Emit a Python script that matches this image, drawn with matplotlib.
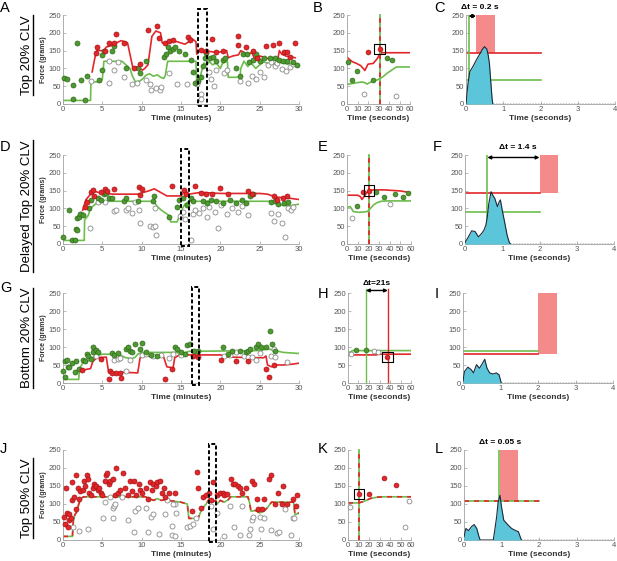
import numpy as np
import matplotlib.pyplot as plt
from matplotlib.patches import Rectangle

plt.rcParams['font.family'] = ['Liberation Sans', 'DejaVu Sans']

RED = '#e3262b'
GREEN = '#6cbd4c'
DOT_GREEN = '#4f9a30'
PINK = '#f58a8a'
CYAN = '#5bc6da'
NAVY = '#1b2a3a'

# ---------------- panel A: Top 20% CLV ----------------
a_red_line_t = [3.7, 4.1, 4.3, 5.2, 5.5, 6.3, 6.8, 7.4, 8.2, 8.9, 9.5, 10.1, 10.4, 10.8, 11.3,
                11.8, 12.4, 12.6, 13.0, 13.6, 14.5, 15.5, 16.0, 16.3, 16.9, 17.0, 17.3, 17.8,
                18.5, 19.5, 20.5, 20.8, 21.0, 21.6, 22.3, 22.6, 23.0, 23.5, 24.0, 24.3, 25.0,
                26.0, 27.0, 27.3, 27.5, 27.8, 28.3, 29.0, 29.5]
a_red_line_f = [90, 135, 150, 150, 160, 165, 172, 178, 172, 100, 105, 95, 100, 110, 190,
                205, 200, 172, 168, 178, 175, 168, 175, 185, 175, 140, 150, 145,
                148, 145, 148, 150, 130, 135, 138, 150, 145, 138, 145, 130, 135,
                128, 130, 125, 150, 140, 135, 132, 130]
a_green_line_t = [0, 3.5, 3.55, 4.8, 5.0, 5.2, 7.5, 8.0, 8.5, 8.8, 9.2, 9.8, 10.2, 10.5, 11.0,
                  11.5, 12.0, 12.4, 12.8, 13.0, 13.3, 16.9, 17.0, 17.3, 17.6, 17.9, 18.3, 18.6,
                  19.0, 19.5, 20.0, 20.3, 20.9, 21.0, 22.5, 22.6, 23.0, 23.5, 23.8, 24.5, 25.0,
                  25.5, 26.5, 27.5, 28.5, 29.5]
a_green_line_f = [10, 10, 62, 62, 70, 120, 120, 110, 100, 80, 62, 65, 72, 80, 85,
                  78, 82, 75, 72, 80, 120, 120, 60, 65, 90, 115, 110, 120,
                  110, 115, 100, 115, 120, 75, 75, 100, 120, 105, 118, 100, 110,
                  118, 112, 118, 112, 115]
a_red_pts = [(4.2, 143), (4.3, 160), (5.4, 148), (5.8, 170), (6.5, 170), (6.8, 197), (7.7, 170),
             (9.0, 100), (9.8, 112), (10.8, 208), (11.9, 219), (12.2, 185), (13.0, 170),
             (13.5, 178), (14.0, 180), (15.9, 188), (16.2, 180), (17.6, 152), (18.2, 150),
             (18.9, 182), (19.4, 145), (20.4, 148), (22.2, 166), (22.3, 190), (23.2, 160),
             (24.2, 148), (24.6, 130), (25.8, 163), (26.7, 166), (27.5, 172), (28.1, 145),
             (28.5, 145), (28.8, 132), (29.5, 172)]
a_green_pts = [(0.1, 72), (0.5, 70), (1.3, 15), (1.3, 52), (1.8, 170), (2.3, 68), (2.8, 12),
               (3.1, 80), (4.6, 68), (5.0, 95), (5.0, 138), (5.2, 150), (6.2, 150), (6.5, 163),
               (8.0, 100), (9.5, 100), (9.8, 88), (10.6, 120), (12.8, 133), (13.1, 140),
               (13.4, 160), (13.6, 150), (14.0, 155), (14.3, 160), (14.8, 150), (15.5, 140),
               (16.3, 125), (16.5, 90), (16.8, 60), (17.2, 65), (17.5, 75), (17.8, 108),
               (18.0, 130), (18.2, 142), (18.7, 128), (19.1, 132), (19.5, 120), (20.3, 125),
               (20.6, 128), (22.0, 100), (22.5, 80), (22.9, 140), (23.4, 140), (23.7, 118),
               (24.2, 125), (24.5, 140), (25.0, 122), (25.5, 130), (26.3, 130), (27.0, 128),
               (27.5, 125), (28.0, 120), (28.5, 120), (29.2, 118), (29.7, 110)]
a_gray_pts = [(3.6, 65), (5.8, 120), (6.5, 95), (7.0, 118), (7.8, 75), (5.8, 60), (8.8, 55),
              (9.4, 60), (10.5, 68), (11.0, 55), (11.2, 38), (11.8, 45), (12.3, 38), (12.5, 48),
              (13.5, 88), (14.5, 55), (15.8, 55), (17.0, 55), (17.5, 28), (17.6, 15), (18.5, 90),
              (18.8, 70), (19.2, 50), (19.5, 95), (20.5, 88), (20.8, 95), (22.5, 65), (23.5, 60),
              (24.0, 80), (24.5, 70), (25.0, 90), (25.5, 75), (26.0, 110), (26.5, 118),
              (27.0, 108), (27.2, 115), (27.8, 98), (28.3, 92), (28.8, 105), (29.2, 112)]
a_window = (17.2, 18.3)

# ---------------- panel D: Delayed Top 20% CLV ----------------
d_red_line_t = [2.5, 2.9, 3.5, 4.0, 5.0, 6.5, 9.5, 11.0, 11.6, 13.2, 15.0, 15.5, 16.0, 17.5,
                20.0, 25.0, 26.0, 27.0, 28.0, 29.0, 30.0]
d_red_line_f = [95, 124, 140, 148, 142, 140, 140, 150, 155, 135, 135, 150, 140, 145,
                142, 142, 140, 132, 130, 128, 125]
d_green_line_t = [0, 2.7, 2.75, 3.2, 3.5, 4.0, 4.5, 5.0, 11.5, 12.0, 12.5, 13.5, 13.7, 14.5,
                  15.2, 15.5, 16.0, 26.5, 27.0, 28.0, 29.0, 30.0]
d_green_line_f = [10, 10, 68, 80, 100, 110, 118, 120, 120, 105, 95, 80, 62, 62,
                  100, 112, 120, 120, 115, 108, 108, 112]
d_red_pts = [(2.8, 105), (3.0, 118), (3.5, 145), (3.8, 152), (4.0, 135), (4.8, 145), (5.3, 155),
             (5.6, 150), (6.5, 155), (9.6, 160), (9.8, 138), (10.0, 155), (13.9, 162),
             (15.4, 152), (15.6, 140), (16.8, 162), (17.6, 142), (18.2, 140), (19.0, 140),
             (20.0, 158), (21.0, 140), (23.5, 148), (24.0, 140), (26.8, 135), (27.2, 125),
             (28.0, 130), (28.5, 135)]
d_green_pts = [(0.0, 20), (0.8, 95), (1.2, 10), (1.5, 12), (1.6, 42), (1.8, 38), (1.8, 72),
               (2.0, 75), (2.2, 85), (2.5, 82), (3.3, 100), (3.6, 125), (4.5, 130), (4.8, 125),
               (5.2, 140), (5.5, 142), (5.8, 128), (6.2, 130), (7.8, 120), (8.0, 128),
               (9.5, 120), (11.5, 120), (11.6, 135), (13.5, 75), (14.5, 105), (14.8, 125),
               (15.3, 130), (15.8, 110), (16.3, 130), (16.5, 120), (17.8, 120), (18.3, 115),
               (18.8, 125), (19.5, 120), (20.3, 115), (21.2, 125), (22.0, 115), (22.8, 125),
               (23.2, 115), (23.8, 135), (24.1, 140), (26.5, 118), (27.0, 120), (27.3, 112),
               (28.1, 115), (28.6, 118)]
d_gray_pts = [(2.3, 85), (3.4, 45), (4.5, 118), (5.3, 118), (6.5, 93), (6.8, 95), (8.0, 95),
              (8.3, 100), (8.8, 88), (9.2, 118), (9.7, 95), (9.8, 58), (11.1, 50), (11.4, 48),
              (11.7, 100), (11.8, 25), (11.7, 50), (14.9, 80), (15.2, 90), (15.5, 70),
              (16.3, 10), (16.5, 85), (16.8, 95), (17.3, 88), (17.8, 100), (18.3, 75),
              (18.5, 105), (19.3, 90), (19.7, 45), (20.1, 110), (20.8, 85), (21.5, 100),
              (22.2, 90), (22.8, 108), (23.5, 82), (26.5, 88), (26.8, 65), (27.3, 85),
              (27.8, 60), (28.2, 20), (28.6, 100), (29.0, 95), (29.2, 105)]
d_window = (15.0, 16.0)

# ---------------- panel G: Bottom 20% CLV ----------------
g_red_line_t = [2.5, 3.0, 3.5, 3.8, 4.3, 5.5, 5.8, 6.5, 7.3, 7.5, 9.5, 9.8, 10.3, 12.5, 12.8,
                13.2, 14.0, 14.2, 14.8, 20.0, 21.0, 25.5, 25.8, 26.0, 26.5, 27.0, 28.0, 29.0, 30.0]
g_red_line_f = [35, 38, 40, 60, 70, 72, 30, 28, 28, 30, 28, 70, 75, 75, 72,
                45, 42, 70, 78, 78, 72, 70, 75, 50, 45, 50, 50, 52, 55]
g_green_line_t = [0, 2.0, 2.1, 2.5, 3.0, 3.5, 4.0, 5.0, 7.2, 7.5, 8.0, 8.8, 9.2, 9.5, 10.0,
                  14.5, 15.0, 16.0, 25.0, 25.5, 26.0, 27.0, 28.0, 30.0]
g_green_line_f = [10, 10, 40, 55, 60, 65, 75, 80, 80, 75, 70, 68, 72, 80, 85,
                  85, 80, 88, 90, 92, 95, 90, 85, 82]
g_green_pts = [(0.0, 32), (0.2, 18), (0.3, 60), (0.5, 65), (0.6, 45), (0.8, 45), (1.2, 55),
               (1.5, 30), (1.7, 62), (2.0, 40), (2.5, 65), (2.8, 60), (3.0, 80), (3.2, 75),
               (3.5, 68), (3.8, 85), (3.8, 100), (4.2, 92), (4.5, 85), (6.2, 82), (6.5, 78),
               (7.0, 82), (8.0, 95), (8.2, 100), (8.5, 88), (8.8, 85), (9.2, 108), (9.8, 95),
               (10.1, 112), (10.5, 85), (11.2, 78), (12.0, 75), (14.3, 100), (14.5, 95),
               (15.0, 85), (15.5, 80), (15.8, 105), (16.2, 108), (16.6, 90), (17.1, 88),
               (20.4, 100), (21.0, 80), (21.5, 88), (22.5, 88), (23.2, 85), (23.5, 88),
               (23.8, 95), (24.5, 100), (24.8, 108), (25.2, 100), (25.8, 100), (26.3, 145),
               (26.6, 108), (27.0, 90)]
g_red_pts = [(2.4, 35), (4.8, 68), (5.8, 10), (6.0, 32), (6.2, 28), (6.8, 28), (7.4, 15),
             (7.3, 28), (13.0, 10), (13.8, 40), (16.5, 75), (17.2, 72), (20.1, 65), (22.0, 60),
             (23.5, 62), (25.8, 40), (26.2, 18), (26.8, 50)]
g_gray_pts = [(4.2, 75), (6.5, 65), (7.0, 68), (7.3, 70), (8.0, 33), (8.5, 65), (10.1, 78),
              (10.5, 80), (11.5, 75), (12.5, 78), (13.5, 70), (14.0, 80), (15.0, 78),
              (20.5, 75), (21.2, 78), (22.0, 85), (23.0, 75), (23.5, 72), (24.0, 72),
              (24.5, 65), (25.0, 82), (26.8, 95), (26.5, 75), (26.9, 72), (28.5, 58)]
g_window = (16.4, 17.3)

# ---------------- panel J: Top 50% CLV (red and green thresholds coincide) ----------------
j_line_t = [0, 1.2, 1.3, 1.5, 1.8, 2.0, 2.3, 2.6, 10.5, 11.0, 11.5, 12.0, 12.5, 13.0, 14.0,
            15.0, 15.8, 16.0, 16.8, 17.0, 17.2, 17.5, 17.8, 18.2, 18.6, 19.0, 19.4, 19.6,
            20.0, 20.5, 21.0, 21.3, 23.5, 23.7, 23.9, 24.5, 25.0, 25.5, 26.0, 26.5, 29.3,
            29.5, 30.0]
j_line_f = [10, 10, 50, 70, 80, 100, 115, 120, 120, 115, 110, 115, 110, 112, 108,
            105, 100, 60, 60, 58, 62, 78, 90, 100, 115, 105, 110, 100,
            110, 105, 112, 120, 120, 105, 80, 82, 75, 80, 90, 105, 105,
            70, 75]
j_red_pts = [(0.1, 65), (0.3, 45), (0.4, 145), (0.5, 75), (0.6, 35), (0.7, 72), (0.8, 55),
             (1.0, 60), (1.1, 160), (1.2, 112), (1.4, 120), (1.6, 85), (1.7, 180), (1.9, 145),
             (2.0, 115), (2.2, 135), (2.5, 140), (2.7, 165), (2.8, 150), (3.0, 180), (3.2, 170),
             (3.3, 130), (3.6, 125), (3.8, 145), (4.0, 155), (4.2, 150), (4.4, 140), (4.6, 145),
             (4.8, 130), (5.0, 125), (5.3, 165), (5.5, 180), (5.6, 185), (5.8, 155), (6.0, 165),
             (6.3, 170), (6.6, 125), (6.8, 200), (7.0, 130), (7.3, 140), (7.6, 185), (7.9, 145),
             (8.2, 125), (8.5, 165), (8.8, 135), (9.0, 165), (9.3, 125), (9.6, 155), (9.8, 140),
             (10.1, 130), (10.5, 145), (10.8, 115), (11.0, 160), (11.3, 140), (11.5, 155),
             (11.8, 150), (12.0, 160), (12.3, 165), (12.6, 130), (12.8, 145), (13.0, 120),
             (13.5, 130), (14.2, 130), (16.4, 80), (17.0, 190), (17.2, 145), (17.5, 90),
             (17.8, 120), (18.2, 125), (18.5, 130), (18.8, 110), (19.1, 160), (19.6, 125),
             (19.9, 130), (20.3, 130), (20.5, 125), (20.8, 128), (21.3, 170), (21.6, 155),
             (21.9, 155), (22.2, 150), (22.5, 145), (22.8, 130), (23.3, 145), (24.0, 165),
             (24.3, 155), (24.6, 115), (24.8, 85), (25.3, 85), (25.6, 115), (26.2, 170),
             (26.5, 180), (27.0, 100), (27.3, 130), (27.8, 100), (28.0, 150), (28.5, 100),
             (29.3, 115), (29.6, 95), (29.8, 125)]
j_gray_pts = [(1.3, 35), (2.0, 25), (3.2, 30), (5.1, 60), (5.3, 105), (6.0, 120), (6.3, 90),
              (6.5, 95), (6.6, 100), (6.4, 60), (7.5, 120), (8.3, 55), (9.0, 22), (9.2, 80),
              (9.5, 88), (10.5, 90), (10.8, 22), (11.2, 65), (11.4, 72), (12.2, 18), (13.0, 72),
              (13.2, 110), (13.8, 15), (13.9, 40), (14.3, 10), (14.3, 100), (14.4, 75),
              (14.0, 100), (15.8, 35), (16.1, 40), (16.5, 45), (16.9, 60), (18.8, 95),
              (19.1, 30), (19.6, 75), (20.5, 10), (21.2, 95), (21.8, 35), (22.5, 15),
              (22.8, 95), (23.6, 15), (23.8, 30), (24.0, 55), (24.2, 65), (25.0, 65),
              (25.2, 30), (25.5, 60), (26.5, 28), (27.2, 20), (27.5, 22), (28.2, 85),
              (29.0, 15), (29.2, 60), (29.4, 62)]
j_window = (18.5, 19.4)

# ---------------- zoomed windows (seconds) ----------------
b_red_line = ([0, 5, 9, 13, 16, 17, 20, 25, 29, 31, 33, 60],
              [131, 119, 114, 108, 98, 94, 112, 114, 128, 140, 144, 144])
b_green_line = ([0, 6, 14, 17, 19, 23, 30, 34, 38, 43, 47, 60],
                [55, 58, 62, 60, 56, 62, 69, 76, 86, 96, 104, 104])
b_red_pts = [(20.3, 147), (31, 155)]
b_green_pts = [(0.6, 117), (5, 67), (9.4, 94), (25, 67), (38, 130), (43, 123)]
b_gray_pts = [(16, 29), (47, 22)]
b_event = 31.5

e_red_line = ([0, 10, 12.5, 14, 17, 20, 25, 35, 50, 60],
              [137, 137, 133, 125, 138, 150, 152, 152, 149, 144])
e_green_line = ([0, 3, 6, 11, 19, 22, 25, 28, 32, 38, 60],
                [103, 105, 91, 89, 91, 100, 110, 116, 120, 121, 121])
e_red_pts = [(14.7, 147), (20.3, 150)]
e_green_pts = [(9.4, 108), (27, 147), (35, 131), (45, 140), (52.5, 133), (57.5, 144)]
e_gray_pts = [(4.7, 74), (40.6, 112)]
e_event = 20.5

h_red_line = ([0, 27, 29, 60], [78, 78, 80, 80])
h_green_line = ([0, 3, 4, 60], [86, 86, 90, 90])
h_red_pts = [(37.6, 73)]
h_green_pts = [(7.6, 91), (17, 92)]
h_gray_pts = [(2.8, 81), (25, 88), (29, 85)]
h_green_event, h_red_event = 17, 38

k_line = ([0, 10, 14, 18, 22, 28, 34, 60], [103, 103, 106, 111, 116, 119, 120, 120])
k_red_pts = [(10.4, 127), (20, 127), (34.4, 173), (45.5, 153)]
k_gray_pts = [(1.9, 92), (58, 107), (54, 37)]
k_event = 10.5

# ---------------- force traces (seconds) ----------------
c_trace_t = [0, 0.05, 0.1, 0.2, 0.3, 0.38, 0.43, 0.47, 0.5, 0.53, 0.56, 0.6, 0.63, 0.66, 0.7, 0.72]
c_trace_f = [0, 55, 90, 108, 128, 142, 152, 158, 161, 157, 154, 135, 112, 70, 15, 0]
f_trace_t = [0, 0.09, 0.18, 0.27, 0.36, 0.45, 0.51, 0.56, 0.6, 0.64, 0.7, 0.74, 0.8, 0.87,
             0.92, 0.95, 1.0, 1.07, 1.13, 1.19, 1.22]
f_trace_f = [4, 20, 37, 35, 20, 30, 39, 53, 77, 114, 147, 138, 128, 105, 119, 124, 95, 58,
             25, 4, 0]
i_trace_t = [0, 0.04, 0.13, 0.22, 0.28, 0.36, 0.44, 0.52, 0.58, 0.64, 0.71, 0.8, 0.89, 0.96, 1.02]
i_trace_f = [5, 32, 44, 37, 28, 51, 41, 55, 66, 41, 28, 25, 28, 23, 0]
l_trace_t = [0, 0.05, 0.12, 0.2, 0.27, 0.34, 0.4, 0.43, 0.78, 0.82, 0.87, 0.91, 0.96, 1.0,
             1.06, 1.18, 1.27, 1.38, 1.45, 1.53]
l_trace_f = [9, 32, 26, 37, 43, 32, 9, 0, 0, 27, 64, 105, 124, 92, 55, 41, 32, 26, 23, 0]

# thresholds (red, green), reward window (start, end), green crossing, delay text
c_levels, c_reward, c_cross, c_delay = (142, 67), (0.27, 0.79), 0.07, 'Δt = 0.2 s'
f_levels, f_reward, f_cross, f_delay = (144, 91), (2.0, 2.5), 0.6, 'Δt = 1.4 s'
i_levels, i_reward = (81, 89), (2.0, 2.5)
l_levels, l_reward, l_cross, l_delay = (107, 107), (0.95, 1.43), 0.92, 'Δt = 0.05 s'

row_names = ['Top 20% CLV', 'Delayed Top 20% CLV', 'Bottom 20% CLV', 'Top 50% CLV']

W, H = 617, 561
fig = plt.figure(figsize=(W / 100, H / 100), dpi=100)


def add_axes(left, right, top, bottom):
    return fig.add_axes([left / W, 1 - bottom / H, (right - left) / W, (bottom - top) / H])


def style(ax, xmax, xticks, xlabel, ylabel=None):
    ax.set_xlim(0, xmax)
    ax.set_ylim(0, 250)
    ax.set_xticks(xticks)
    ax.set_yticks(range(0, 251, 50))
    for s in ['top', 'right']:
        ax.spines[s].set_visible(False)
    for s in ['left', 'bottom']:
        ax.spines[s].set_color('#a0a0a0')
        ax.spines[s].set_linewidth(0.6)
    ax.tick_params(direction='in', length=2, width=0.5, color='#a0a0a0',
                   labelsize=5.5, labelcolor='#555555', pad=1.5)
    ax.set_xlabel(xlabel, fontsize=6, fontweight='bold', color='#333333', labelpad=1.5)
    if ylabel:
        ax.set_ylabel(ylabel, fontsize=5, fontweight='bold', color='#333333', labelpad=1)
    ax.patch.set_alpha(0)


def dots(ax, pts, kind, size=13):
    if not pts:
        return
    x, y = np.array(pts).T
    if kind == 'red':
        ax.scatter(x, y, s=size, facecolor=RED, edgecolor='#a51515', lw=0.5, zorder=4, clip_on=False)
    elif kind == 'green':
        ax.scatter(x, y, s=size, facecolor=DOT_GREEN, edgecolor='#2f6a1c', lw=0.5, zorder=4, clip_on=False)
    else:
        ax.scatter(x, y, s=size, facecolor='white', edgecolor='#8a8a8a', lw=0.6, zorder=3, clip_on=False)


def merged_line(ax, t, f, vertical=False):
    if vertical:
        ax.plot([t, t], [0, 250], color=GREEN, lw=1.3, zorder=2, clip_on=False)
        ax.plot([t, t], [0, 250], color=RED, lw=1.3, ls=(0, (2.5, 2.5)), zorder=2, clip_on=False)
    else:
        ax.plot(t, f, color=GREEN, lw=1.2, zorder=2)
        ax.plot(t, f, color=RED, lw=1.2, ls=(0, (3, 3)), zorder=2)


def main_panel(ax, red_line, green_line, red_pts, green_pts, gray_pts, window, merged=None):
    if merged is not None:
        merged_line(ax, *merged)
    else:
        ax.plot(*green_line, color=GREEN, lw=1.2, zorder=2)
        ax.plot(*red_line, color=RED, lw=1.2, zorder=2)
    dots(ax, gray_pts, 'gray')
    dots(ax, green_pts, 'green')
    dots(ax, red_pts, 'red')
    ax.add_patch(Rectangle((window[0], -6), window[1] - window[0], 272, fill=False,
                           ec='black', lw=1.4, ls=(0, (2, 1.2)), clip_on=False, zorder=5))
    style(ax, 30, range(0, 31, 5), 'Time (minutes)', 'Force (grams)')


def window_panel(ax, red_pts, green_pts, gray_pts, picked):
    dots(ax, gray_pts, 'gray', 12)
    dots(ax, green_pts, 'green', 12)
    dots(ax, red_pts, 'red', 12)
    ax.scatter([picked[0]], [picked[1]], s=55, marker='s', facecolor='none',
               edgecolor='black', lw=0.8, zorder=5, clip_on=False)
    style(ax, 60, range(0, 61, 10), 'Time (seconds)')


def trace_panel(ax, t, f, levels, reward):
    red_level, green_level = levels
    ax.add_patch(Rectangle((reward[0], red_level), reward[1] - reward[0], 250 - red_level,
                           color=PINK, lw=0, zorder=1))
    if red_level == green_level:
        merged_line(ax, [0, 2], [red_level, red_level])
    else:
        ax.plot([0, 2], [green_level] * 2, color=GREEN, lw=1.2, zorder=2)
        ax.plot([0, 2], [red_level] * 2, color=RED, lw=1.2, zorder=2)
    ax.fill_between(t, f, color=CYAN, lw=0, zorder=3)
    ax.plot(t, f, color=NAVY, lw=0.8, zorder=4)
    ax.plot([t[-1], 4], [1, 1], color='black', lw=1.0, ls=(0, (1, 1)), zorder=4)
    style(ax, 4, range(0, 5), 'Time (seconds)')


def cross_line(ax, x):
    ax.plot([x, x], [0, 250], color=GREEN, lw=1.2, zorder=2)


def delay_arrow(ax, x0, x1, y):
    ax.annotate('', xy=(x1, y), xytext=(x0, y), annotation_clip=False,
                arrowprops=dict(arrowstyle='<|-|>', color='black', lw=1.0,
                                mutation_scale=5, shrinkA=0, shrinkB=0))


rows = [(15, 104), (155, 244), (293, 383), (450, 540)]

# row 1
ax = add_axes(63, 299, *rows[0])
main_panel(ax, (a_red_line_t, a_red_line_f), (a_green_line_t, a_green_line_f),
           a_red_pts, a_green_pts, a_gray_pts, a_window)
ax = add_axes(347, 410, *rows[0])
ax.plot(*b_green_line, color=GREEN, lw=1.2, zorder=2)
ax.plot(*b_red_line, color=RED, lw=1.2, zorder=2)
merged_line(ax, b_event, None, vertical=True)
window_panel(ax, b_red_pts, b_green_pts, b_gray_pts, b_red_pts[-1])
ax = add_axes(466, 615, *rows[0])
trace_panel(ax, c_trace_t, c_trace_f, c_levels, c_reward)
cross_line(ax, c_cross)
delay_arrow(ax, c_cross, c_reward[0], 247)
ax.text(0.38, 262, c_delay, fontsize=6, fontweight='bold', ha='center', va='bottom')

# row 2
ax = add_axes(63, 299, *rows[1])
main_panel(ax, (d_red_line_t, d_red_line_f), (d_green_line_t, d_green_line_f),
           d_red_pts, d_green_pts, d_gray_pts, d_window)
ax = add_axes(347, 411, *rows[1])
ax.plot(*e_green_line, color=GREEN, lw=1.2, zorder=2)
ax.plot(*e_red_line, color=RED, lw=1.2, zorder=2)
merged_line(ax, e_event, None, vertical=True)
window_panel(ax, e_red_pts, e_green_pts, e_gray_pts, e_red_pts[-1])
ax = add_axes(465, 614, *rows[1])
trace_panel(ax, f_trace_t, f_trace_f, f_levels, f_reward)
cross_line(ax, f_cross)
delay_arrow(ax, f_cross, f_reward[0], 243)
ax.text(1.43, 262, f_delay, fontsize=6, fontweight='bold', ha='center', va='bottom')

# row 3
ax = add_axes(63, 299, *rows[2])
main_panel(ax, (g_red_line_t, g_red_line_f), (g_green_line_t, g_green_line_f),
           g_red_pts, g_green_pts, g_gray_pts, g_window)
ax = add_axes(348, 411, *rows[2])
ax.plot(*h_green_line, color=GREEN, lw=1.2, zorder=2)
ax.plot(*h_red_line, color=RED, lw=1.2, zorder=2)
ax.plot([h_green_event] * 2, [0, 262], color=GREEN, lw=1.0, zorder=2, clip_on=False)
ax.plot([h_red_event] * 2, [0, 262], color=RED, lw=1.0, zorder=2, clip_on=False)
delay_arrow(ax, h_green_event, h_red_event, 257)
ax.text((h_green_event + h_red_event) / 2, 268, 'Δt=21s', fontsize=6, fontweight='bold',
        ha='center', va='bottom')
window_panel(ax, h_red_pts, h_green_pts, h_gray_pts, h_red_pts[-1])
ax = add_axes(463, 613, *rows[2])
trace_panel(ax, i_trace_t, i_trace_f, i_levels, i_reward)

# row 4
ax = add_axes(63, 299, *rows[3])
main_panel(ax, None, None, j_red_pts, [], j_gray_pts, j_window, merged=(j_line_t, j_line_f))
ax = add_axes(348, 411, *rows[3])
merged_line(ax, *k_line)
merged_line(ax, k_event, None, vertical=True)
window_panel(ax, k_red_pts, [], k_gray_pts, k_red_pts[0])
ax = add_axes(464, 614, *rows[3])
trace_panel(ax, l_trace_t, l_trace_f, l_levels, l_reward)
cross_line(ax, l_cross)
ax.text(0.96, 262, l_delay, fontsize=6, fontweight='bold', ha='center', va='bottom')

# panel letters
letters = [('A', 0, 1), ('B', 313, 1), ('C', 434, 1),
           ('D', 0, 140), ('E', 318, 140), ('F', 433, 140),
           ('G', 0, 281), ('H', 318, 287), ('I', 435, 287),
           ('J', 0, 442), ('K', 318, 442), ('L', 435, 442)]
for s, x, y in letters:
    fig.text(x / W, 1 - y / H, s, fontsize=10.5, va='top', ha='left')

# row titles, underlined
row_centres = [55, 206, 338, 498]
row_texts = [fig.text(27 / W, 1 - y / H, name, rotation=90, fontsize=9.5, ha='center',
                      va='center') for name, y in zip(row_names, row_centres)]
fig.canvas.draw()
renderer = fig.canvas.get_renderer()
for txt in row_texts:
    bb = txt.get_window_extent(renderer).transformed(fig.transFigure.inverted())
    fig.add_artist(plt.Line2D([bb.x1 - 0.5 / W] * 2, [bb.y0, bb.y1], transform=fig.transFigure,
                              color='black', lw=1.0))

fig.savefig('out.png', dpi=100)
